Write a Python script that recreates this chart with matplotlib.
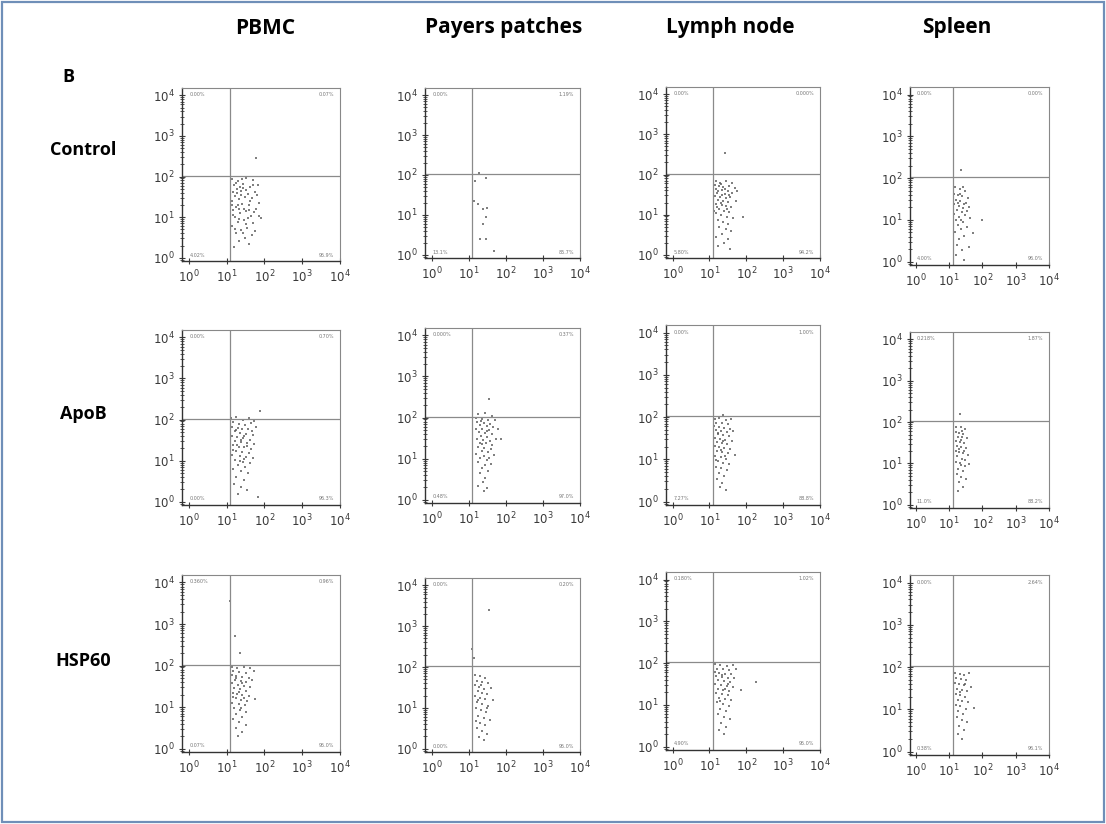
import numpy as np
import matplotlib.pyplot as plt
from matplotlib.patches import Rectangle

W, H = 1106, 824
fig = plt.figure(figsize=(W / 100, H / 100), dpi=100)
fig.patch.set_facecolor("white")

# ── labels ────────────────────────────────────────────────
columns = ["PBMC", "Payers patches", "Lymph node", "Spleen"]
rows = ["Control", "ApoB", "HSP60"]
decades = [1, 10, 100, 1000, 10000]

# quadrant percentages (UL, UR, LL, LR) per row, per column
quad_pct = [
    [("0.00%", "0.07%", "4.02%", "95.9%"), ("0.00%", "1.19%", "13.1%", "85.7%"),
     ("0.00%", "0.000%", "5.80%", "94.2%"), ("0.00%", "0.00%", "4.00%", "96.0%")],
    [("0.00%", "0.70%", "0.00%", "96.3%"), ("0.000%", "0.37%", "0.48%", "97.0%"),
     ("0.00%", "1.00%", "7.27%", "88.8%"), ("0.218%", "1.87%", "11.0%", "88.2%")],
    [("0.360%", "0.96%", "0.07%", "95.0%"), ("0.00%", "0.20%", "0.00%", "95.0%"),
     ("0.180%", "1.02%", "4.90%", "95.0%"), ("0.00%", "2.64%", "0.38%", "96.1%")],
]

# ── events (log10 x, log10 y) ────────────────────────────────
ctrl_pbmc = [(1.14,1.95),(1.31,1.88),(1.52,1.97),(1.70,1.91),(1.79,2.45),(1.19,1.78),(1.44,1.82),(1.61,1.73),
             (1.83,1.80),(1.27,1.69),(1.38,1.64),(1.16,1.61),(1.56,1.58),(1.75,1.63),(1.23,1.52),(1.49,1.49),
             (1.34,1.44),(1.68,1.47),(1.13,1.40),(1.86,1.36),(1.42,1.33),(1.59,1.29),(1.25,1.26),(1.78,1.21),
             (1.17,1.17),(1.51,1.15),(1.36,1.09),(1.64,1.04),(1.21,1.01),(1.91,0.97),(1.46,0.93),(1.29,0.88),
             (1.71,0.85),(1.15,0.79),(1.55,0.74),(1.39,0.69),(1.26,0.61),(1.67,0.57),(1.48,0.49),(1.33,0.41),
             (1.58,0.33),(1.20,0.27),(1.43,0.62),(1.80,1.55),(1.35,1.73),(1.52,1.67),(1.24,1.84),(1.41,1.95),
             (1.62,1.39),(1.30,1.31),(1.47,1.21),(1.73,1.12),(1.18,1.05),(1.56,0.99),(1.34,0.96),(1.85,1.02),
             (1.23,0.72),(1.50,0.83),(1.76,0.66),(1.37,1.55),(1.28,1.59),(1.69,1.80),(1.44,1.71),(1.15,1.30),
             (1.60,1.17),(1.32,1.19)]
ctrl_payers = [(1.28,2.05),(1.46,1.92),(1.17,1.85),(1.14,1.35),(1.25,1.27),(1.38,1.15),(1.49,1.17),
               (1.46,0.95),(1.38,0.77),(1.30,0.40),(1.46,0.40),(1.68,0.10)]
ctrl_lymph = [(1.43,2.53),(1.18,1.84),(1.29,1.80),(1.46,1.83),(1.60,1.78),(1.15,1.74),(1.25,1.71),(1.38,1.69),
              (1.52,1.72),(1.68,1.66),(1.17,1.63),(1.34,1.61),(1.49,1.58),(1.21,1.54),(1.41,1.51),(1.62,1.53),
              (1.16,1.47),(1.28,1.44),(1.46,1.41),(1.57,1.45),(1.24,1.37),(1.37,1.34),(1.51,1.31),(1.71,1.35),
              (1.19,1.27),(1.33,1.24),(1.44,1.21),(1.59,1.19),(1.27,1.14),(1.39,1.09),(1.54,1.07),(1.17,1.04),
              (1.91,0.93),(1.31,0.99),(1.47,0.94),(1.64,0.91),(1.22,0.87),(1.37,0.81),(1.51,0.77),(1.27,0.69),
              (1.44,0.64),(1.58,0.59),(1.34,0.51),(1.19,0.44),(1.49,0.39),(1.39,0.29),(1.24,0.21),(1.56,0.14),
              (1.30,1.77),(1.43,1.64),(1.35,1.49),(1.24,1.59),(1.52,1.49),(1.31,1.29),(1.47,1.14),(1.21,1.19),
              (1.75,1.60),(1.13,1.10)]
ctrl_spleen = [(1.35,2.20),(1.17,1.78),(1.31,1.74),(1.46,1.69),(1.14,1.63),(1.26,1.60),(1.38,1.56),(1.55,1.53),
               (1.19,1.48),(1.33,1.45),(1.49,1.41),(1.13,1.37),(1.28,1.34),(1.41,1.29),(1.60,1.31),(1.22,1.24),
               (1.37,1.19),(1.15,1.14),(1.47,1.11),(1.30,1.07),(1.63,1.04),(1.20,0.99),(1.40,0.94),(1.98,0.99),
               (1.26,0.87),(1.52,0.84),(1.35,0.77),(1.16,0.71),(1.72,0.69),(1.45,0.61),(1.29,0.54),(1.24,0.41),
               (1.58,0.36),(1.38,0.27),(1.21,0.16),(1.45,0.05),(1.33,1.62),(1.44,1.37),(1.27,1.40),(1.53,1.21),
               (1.36,0.99),(1.40,1.79)]
apob_pbmc = [(1.88,2.22),(1.12,2.03),(1.26,2.06),(1.43,1.99),(1.59,2.04),(1.72,1.97),(1.18,1.93),(1.33,1.89),
             (1.49,1.87),(1.65,1.91),(1.14,1.82),(1.29,1.79),(1.41,1.76),(1.56,1.77),(1.77,1.81),(1.21,1.71),
             (1.36,1.67),(1.52,1.65),(1.69,1.63),(1.13,1.59),(1.27,1.57),(1.44,1.55),(1.62,1.51),(1.23,1.47),
             (1.39,1.46),(1.54,1.43),(1.73,1.41),(1.16,1.37),(1.33,1.34),(1.47,1.32),(1.64,1.29),(1.26,1.24),
             (1.41,1.21),(1.58,1.19),(1.14,1.14),(1.35,1.11),(1.51,1.09),(1.70,1.07),(1.22,1.01),(1.43,0.97),
             (1.61,0.94),(1.31,0.89),(1.49,0.84),(1.17,0.79),(1.39,0.74),(1.57,0.69),(1.26,0.61),(1.46,0.54),
             (1.20,0.44),(1.37,0.37),(1.53,0.29),(1.30,0.19),(1.83,0.11),(1.24,1.74),(1.47,1.61),(1.37,1.51),
             (1.28,1.39),(1.55,1.35),(1.18,1.27),(1.45,1.04),(1.66,1.72),(1.35,0.99)]
apob_payers = [(1.55,2.45),(1.25,2.09),(1.44,2.12),(1.63,2.04),(1.19,1.99),(1.35,1.97),(1.52,1.95),(1.71,1.93),
               (1.22,1.89),(1.40,1.87),(1.58,1.85),(1.31,1.81),(1.48,1.79),(1.66,1.77),(1.20,1.73),(1.37,1.71),
               (1.55,1.69),(1.79,1.71),(1.27,1.64),(1.45,1.62),(1.62,1.59),(1.34,1.55),(1.50,1.53),(1.21,1.49),
               (1.39,1.46),(1.57,1.44),(1.73,1.47),(1.29,1.39),(1.47,1.37),(1.64,1.34),(1.24,1.29),(1.42,1.26),
               (1.59,1.24),(1.35,1.19),(1.51,1.15),(1.20,1.11),(1.40,1.07),(1.69,1.09),(1.31,1.01),(1.48,0.97),
               (1.26,0.91),(1.45,0.85),(1.61,0.87),(1.36,0.77),(1.53,0.71),(1.29,0.64),(1.44,0.54),(1.38,0.44),
               (1.25,0.34),(1.50,0.29),(1.41,0.21),(1.86,1.49),(1.33,1.91),(1.49,1.67),(1.37,1.35),(1.55,1.01)]
apob_lymph = [(1.36,2.06),(1.14,1.95),(1.27,1.97),(1.45,1.93),(1.58,1.96),(1.19,1.87),(1.34,1.85),(1.50,1.84),
              (1.13,1.79),(1.25,1.77),(1.40,1.75),(1.56,1.73),(1.17,1.69),(1.32,1.67),(1.47,1.65),(1.64,1.67),
              (1.22,1.59),(1.36,1.57),(1.52,1.55),(1.15,1.51),(1.28,1.49),(1.43,1.47),(1.60,1.44),(1.20,1.41),
              (1.34,1.39),(1.48,1.37),(1.14,1.32),(1.26,1.29),(1.40,1.27),(1.56,1.25),(1.20,1.19),(1.35,1.17),
              (1.50,1.14),(1.68,1.11),(1.16,1.09),(1.30,1.05),(1.45,1.01),(1.23,0.95),(1.38,0.91),(1.54,0.89),
              (1.18,0.83),(1.32,0.79),(1.48,0.74),(1.25,0.67),(1.40,0.61),(1.20,0.54),(1.35,0.44),(1.28,0.34),
              (1.45,0.27),(1.24,1.63),(1.38,1.43),(1.30,1.21),(1.42,1.09),(1.17,0.99)]
apob_spleen = [(1.31,2.19),(1.21,1.89),(1.35,1.87),(1.48,1.84),(1.19,1.77),(1.29,1.74),(1.42,1.71),(1.25,1.65),
               (1.38,1.63),(1.52,1.61),(1.19,1.54),(1.31,1.51),(1.45,1.49),(1.23,1.43),(1.36,1.39),(1.50,1.37),
               (1.19,1.31),(1.29,1.27),(1.42,1.24),(1.56,1.21),(1.24,1.17),(1.38,1.11),(1.48,1.07),(1.21,1.04),
               (1.34,0.97),(1.46,0.94),(1.60,0.99),(1.27,0.87),(1.40,0.81),(1.23,0.74),(1.36,0.67),(1.50,0.61),
               (1.30,0.54),(1.42,0.44),(1.26,0.34),(1.34,1.57),(1.28,1.34),(1.44,1.29),(1.32,1.01),(1.38,1.79)]
hsp_pbmc = [(1.08,3.55),(1.22,2.72),(1.35,2.31),(1.14,1.97),(1.28,1.94),(1.45,1.96),(1.62,1.93),(1.18,1.87),
            (1.34,1.85),(1.50,1.83),(1.72,1.86),(1.15,1.77),(1.26,1.75),(1.42,1.73),(1.58,1.71),(1.22,1.65),
            (1.37,1.63),(1.52,1.61),(1.68,1.66),(1.14,1.57),(1.30,1.54),(1.46,1.51),(1.62,1.49),(1.20,1.45),
            (1.35,1.43),(1.50,1.39),(1.16,1.35),(1.28,1.32),(1.42,1.29),(1.58,1.27),(1.24,1.21),(1.38,1.17),
            (1.54,1.14),(1.15,1.11),(1.32,1.07),(1.48,1.04),(1.20,0.97),(1.36,0.93),(1.52,0.89),(1.26,0.83),
            (1.42,0.77),(1.18,0.71),(1.34,0.65),(1.50,0.57),(1.25,0.49),(1.40,0.41),(1.30,0.31),(1.76,1.19),
            (1.24,1.69),(1.40,1.59),(1.32,1.37),(1.46,1.23),(1.18,1.25),(1.38,0.99)]
hsp_payers = [(1.55,3.40),(1.10,2.45),(1.15,2.21),(1.18,1.81),(1.30,1.77),(1.45,1.74),(1.22,1.67),(1.36,1.64),
              (1.52,1.61),(1.18,1.55),(1.28,1.51),(1.42,1.47),(1.60,1.49),(1.24,1.41),(1.36,1.37),(1.50,1.34),
              (1.18,1.29),(1.30,1.24),(1.44,1.21),(1.65,1.19),(1.23,1.14),(1.36,1.09),(1.52,1.05),(1.20,0.99),
              (1.32,0.94),(1.46,0.89),(1.26,0.81),(1.40,0.75),(1.56,0.71),(1.30,0.64),(1.44,0.57),(1.22,0.51),
              (1.36,0.43),(1.50,0.37),(1.28,0.29),(1.42,0.21),(1.34,1.57),(1.26,1.19),(1.48,0.99),(1.20,0.69)]
hsp_lymph = [(1.16,1.97),(1.29,1.95),(1.47,1.94),(1.63,1.96),(1.21,1.87),(1.37,1.85),(1.53,1.84),(1.73,1.87),
             (1.15,1.79),(1.27,1.77),(1.43,1.75),(1.59,1.73),(1.19,1.69),(1.34,1.66),(1.49,1.64),(1.67,1.65),
             (1.24,1.59),(1.39,1.56),(1.55,1.54),(1.16,1.51),(1.31,1.47),(1.47,1.45),(1.63,1.43),(1.22,1.39),
             (1.37,1.36),(1.53,1.33),(1.19,1.29),(1.33,1.26),(1.49,1.23),(1.27,1.17),(1.43,1.13),(1.59,1.11),
             (1.21,1.07),(1.37,1.01),(1.53,0.97),(1.29,0.91),(1.45,0.85),(1.23,0.77),(1.39,0.71),(1.55,0.65),
             (1.31,0.57),(1.45,0.47),(1.25,0.39),(1.39,0.31),(2.25,1.55),(1.85,1.35),(1.33,1.71),(1.41,1.39),
             (1.29,1.09),(1.51,1.51)]
hsp_spleen = [(1.17,1.87),(1.31,1.84),(1.45,1.81),(1.59,1.85),(1.21,1.75),(1.35,1.71),(1.51,1.69),(1.17,1.63),
              (1.29,1.59),(1.43,1.57),(1.65,1.54),(1.23,1.49),(1.37,1.45),(1.53,1.43),(1.19,1.37),(1.31,1.33),
              (1.47,1.29),(1.25,1.23),(1.39,1.19),(1.57,1.17),(1.19,1.11),(1.33,1.07),(1.49,1.01),(1.74,1.04),
              (1.27,0.95),(1.41,0.89),(1.23,0.81),(1.37,0.75),(1.53,0.69),(1.29,0.61),(1.44,0.51),(1.25,0.41),
              (1.39,0.31),(1.33,1.41),(1.47,1.61)]

events = [
    [ctrl_pbmc, ctrl_payers, ctrl_lymph, ctrl_spleen],
    [apob_pbmc, apob_payers, apob_lymph, apob_spleen],
    [hsp_pbmc, hsp_payers, hsp_lymph, hsp_spleen],
]

# quadrant gates (log10)
gate_x = 1.10
gate_y = 2.02

# panel boxes in pixels: (left, top, right, bottom)
boxes = [
    [(182, 88, 340, 261), (425, 88, 580, 258), (666, 87, 820, 258), (910, 87, 1049, 265)],
    [(182, 330, 340, 505), (425, 328, 580, 503), (666, 325, 820, 505), (910, 332, 1049, 508)],
    [(182, 575, 340, 752), (425, 578, 580, 752), (666, 572, 820, 750), (910, 575, 1049, 755)],
]


def px_axes(box):
    x0, y0, x1, y1 = box
    return fig.add_axes([x0 / W, 1 - y1 / H, (x1 - x0) / W, (y1 - y0) / H])


for r in range(3):
    for c in range(4):
        ax = px_axes(boxes[r][c])
        pts = np.array(events[r][c])
        ax.scatter(10 ** pts[:, 0], 10 ** pts[:, 1], s=1.8, marker="s", color="#555555",
                   linewidths=0, alpha=0.75)
        ax.set_xscale("log")
        ax.set_yscale("log")
        ax.set_xlim(10 ** -0.18, 10 ** 4.0)
        ax.set_ylim(10 ** -0.08, 10 ** 4.18)
        ax.axvline(10 ** gate_x, color="#8a8a8a", lw=0.9)
        ax.axhline(10 ** gate_y, color="#8a8a8a", lw=0.9)
        ax.set_xticks(decades)
        ax.set_yticks(decades)
        ax.tick_params(which="both", direction="inout", labelsize=8.5,
                       colors="#3a3a3a", pad=3)
        ax.tick_params(which="major", length=5, width=0.8)
        ax.tick_params(which="minor", length=2.5, width=0.6)
        for side in ["left", "bottom"]:
            ax.spines[side].set_color("#333333")
            ax.spines[side].set_linewidth(1.0)
        for side in ["top", "right"]:
            ax.spines[side].set_color("#888888")
            ax.spines[side].set_linewidth(0.8)

        ul, ur, ll, lr = quad_pct[r][c]
        kw = dict(transform=ax.transAxes, fontsize=3.5, color="#777777")
        ax.text(0.05, 0.975, ul, ha="left", va="top", **kw)
        ax.text(0.96, 0.975, ur, ha="right", va="top", **kw)
        ax.text(0.05, 0.02, ll, ha="left", va="bottom", **kw)
        ax.text(0.96, 0.02, lr, ha="right", va="bottom", **kw)

# ── headings ──────────────────────────────────────────────
head_font = dict(family=["Open Sans", "DejaVu Sans"], fontweight="bold", color="black")
col_x = [265, 504, 730, 957]
for name, x in zip(columns, col_x):
    fig.text(x / W, 1 - 28 / H, name, ha="center", va="center", fontsize=15, **head_font)

row_y = [150, 414, 661]
for name, y in zip(rows, row_y):
    fig.text(83 / W, 1 - y / H, name, ha="center", va="center", fontsize=13, **head_font)
fig.text(68 / W, 1 - 77 / H, "B", ha="center", va="center", fontsize=13, **head_font)

# outer frame
fig.patches.append(Rectangle((0.002, 0.003), 0.996, 0.994, transform=fig.transFigure,
                             fill=False, edgecolor="#6f8fb8", linewidth=1.6))

fig.savefig("out.png", dpi=100)
